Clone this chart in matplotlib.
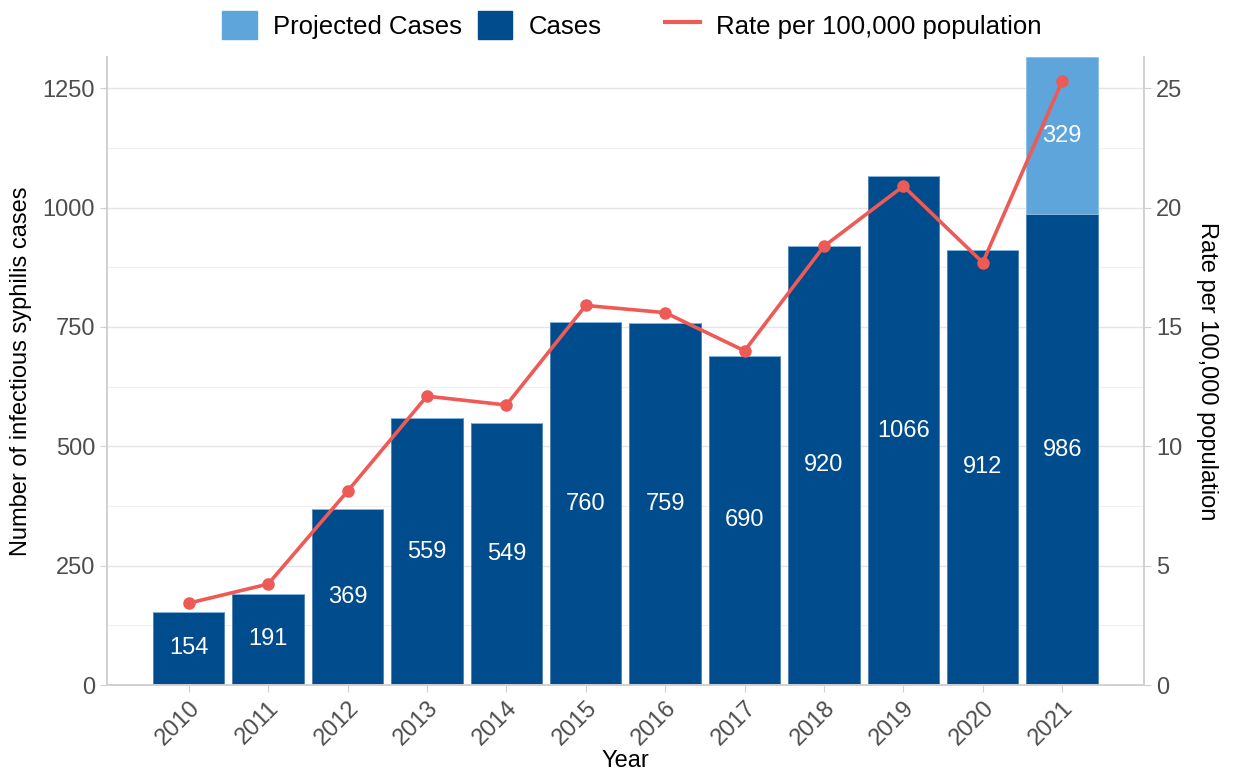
import matplotlib.pyplot as plt
from matplotlib.patches import Patch
from matplotlib.lines import Line2D
from matplotlib.ticker import MultipleLocator

plt.rcParams['font.family'] = ['Liberation Sans', 'DejaVu Sans']

years = ['2010', '2011', '2012', '2013', '2014', '2015', '2016', '2017', '2018', '2019', '2020', '2021']
cases = [154, 191, 369, 559, 549, 760, 759, 690, 920, 1066, 912, 986]
projected = [0, 0, 0, 0, 0, 0, 0, 0, 0, 0, 0, 329]
rate = [3.43, 4.23, 8.12, 12.1, 11.73, 15.9, 15.6, 14.0, 18.38, 20.9, 17.7, 25.3]

c_cases = '#004C8C'
c_proj = '#5DA5DA'
c_line = '#EE5A55'
grid_c = '#E5E5E5'
axis_c = '#D0D0D0'
tick_c = '#4D4D4D'

fig = plt.figure(figsize=(12.41, 7.73), dpi=100)
ax = fig.add_axes([0.0862, 0.1138, 0.8356, 0.8122])

x = list(range(len(years)))
ax.bar(x, cases, width=0.9, color=c_cases, edgecolor='#4F7FB0', linewidth=0.6, zorder=2)
ax.bar(x, projected, bottom=cases, width=0.9, color=c_proj, edgecolor='#8FBEE5', linewidth=0.6, zorder=2)

for i in x:
    ax.text(i, cases[i] / 2, str(cases[i]), ha='center', va='center', color='white', fontsize=17, zorder=4)
    if projected[i] > 0:
        ax.text(i, cases[i] + projected[i] / 2, str(projected[i]), ha='center', va='center',
                color='white', fontsize=17, zorder=4)

ax.set_xlim(-1.03, 12.03)
ax.set_ylim(0, 1315)
ax.set_xticks(x)
ax.set_xticklabels(years, rotation=45, ha='right', rotation_mode='anchor')
ax.yaxis.set_major_locator(MultipleLocator(250))
ax.yaxis.set_minor_locator(MultipleLocator(125))
ax.grid(axis='y', which='major', color=grid_c, linewidth=1.0, zorder=0)
ax.grid(axis='y', which='minor', color='#F0F0F0', linewidth=0.8, zorder=0)
ax.set_axisbelow(True)
ax.tick_params(axis='both', which='major', colors=axis_c, labelcolor=tick_c, labelsize=17, length=5)
ax.tick_params(axis='y', which='minor', length=0)
ax.set_xlabel('Year', fontsize=17, labelpad=0)
ax.set_ylabel('Number of infectious syphilis cases', fontsize=17, labelpad=8)

ax2 = ax.twinx()
ax2.plot(x, rate, color=c_line, linewidth=2.6, marker='o', markersize=8, zorder=3)
ax2.set_ylim(0, 1315 / 50)
ax2.yaxis.set_major_locator(MultipleLocator(5))
ax2.tick_params(axis='y', colors=axis_c, labelcolor=tick_c, labelsize=17, length=5)
ax2.set_ylabel('Rate per 100,000 population', fontsize=17, rotation=270, labelpad=26)

for a in (ax, ax2):
    a.spines['top'].set_visible(False)
    for s in ('left', 'right', 'bottom'):
        a.spines[s].set_color(axis_c)
        a.spines[s].set_linewidth(1.2)

bar_handles = [Patch(color=c_proj, label='Projected Cases'),
               Patch(color=c_cases, label='Cases')]
line_handles = [Line2D([0], [0], color=c_line, linewidth=3, label='Rate per 100,000 population')]
ly = 1 - 25 / 773
leg_kw = dict(frameon=False, fontsize=18.5, handlelength=1.35, handleheight=1.35,
              handletextpad=0.65, borderpad=0, borderaxespad=0, loc='center left')
fig.legend(handles=bar_handles, bbox_to_anchor=(222 / 1241, ly), ncol=2, columnspacing=0.6, **leg_kw)
fig.legend(handles=line_handles, bbox_to_anchor=(665 / 1241, ly), ncol=1, **leg_kw)

fig.savefig('out.png', dpi=100)
